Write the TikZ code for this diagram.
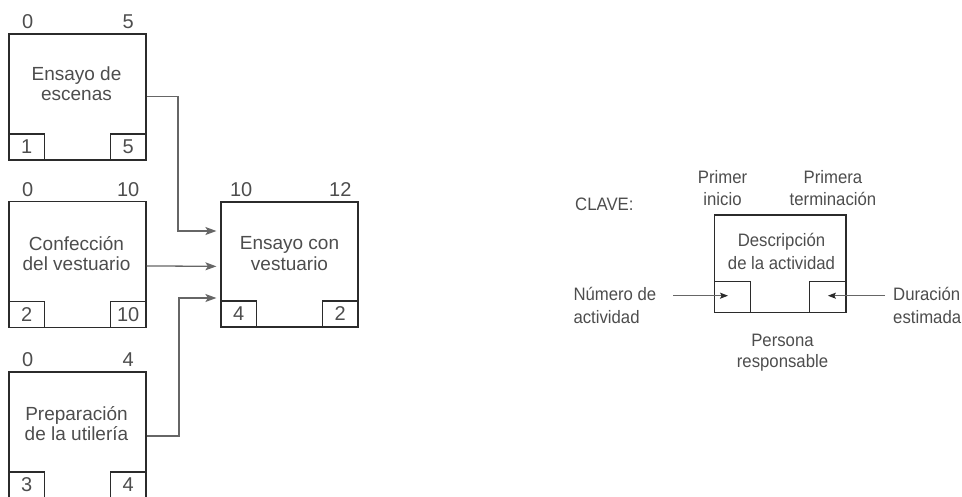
\documentclass[tikz,border=0pt]{standalone}
\usepackage{fontspec}
\setmainfont{Liberation Sans}
\newfontfamily\keyfont[FakeStretch=0.93]{Liberation Sans}
\usetikzlibrary{arrows.meta,calc}
\definecolor{boxline}{HTML}{2B2B2B}
\definecolor{txtcol}{HTML}{4D4D4D}
\definecolor{conncol}{HTML}{666666}
\begin{document}
\begin{tikzpicture}[x=1pt,y=-1pt,
  actbox/.style={draw=boxline,line width=1.2pt,minimum width=137pt,minimum height=126pt,inner sep=0pt},
  keybox/.style={draw=boxline,line width=1.2pt,minimum width=131.7pt,minimum height=97.7pt,inner sep=0pt},
  smallbox/.style={draw=boxline,line width=1.2pt,minimum width=35.5pt,minimum height=26pt,inner sep=0pt,
    text=txtcol,font=\fontsize{20}{22}\selectfont},
  keysmall/.style={draw=boxline,line width=1.2pt,minimum width=36.4pt,minimum height=31pt,inner sep=0pt},
  numlab/.style={anchor=base,inner sep=0pt,text=txtcol,font=\fontsize{20}{22}\selectfont},
  boxtxt/.style={anchor=base,inner sep=0pt,text=txtcol,font=\fontsize{19}{20}\selectfont},
  keytxt/.style={anchor=base,inner sep=0pt,text=txtcol,font=\keyfont\fontsize{18}{22}\selectfont},
  keytxtl/.style={keytxt,anchor=base west},
  conn/.style={draw=conncol,line width=1.3pt,-{Stealth[length=11pt,width=8pt,inset=2.5pt]}},
  keyarrow/.style={draw=conncol,line width=1.1pt,-{Stealth[length=8pt,width=6pt,inset=1.5pt,color=boxline]}}
]
\useasboundingbox (0,0) rectangle (962,496);

% ---- Activity 1
\node[actbox] (b1) at (77.5,97) {};
\node[smallbox,anchor=south west] (b1n) at (b1.south west) {1};
\node[smallbox,anchor=south east] (b1d) at (b1.south east) {5};
\node[numlab] (b1s) at ($(b1n.center |- b1.north)+(1,-4.5)$) {0};
\node[numlab] (b1f) at ($(b1d.center |- b1.north)+(0,-4.5)$) {5};
\node[boxtxt] (b1t1) at (76.5,80) {Ensayo de};
\node[boxtxt] (b1t2) at (76.5,100) {escenas};

% ---- Activity 2
\node[actbox] (b2) at (77.5,264.5) {};
\node[smallbox,anchor=south west] (b2n) at (b2.south west) {2};
\node[smallbox,anchor=south east] (b2d) at (b2.south east) {10};
\node[numlab] (b2s) at ($(b2n.center |- b2.north)+(1,-4.5)$) {0};
\node[numlab] (b2f) at ($(b2d.center |- b2.north)+(0,-4.5)$) {10};
\node[boxtxt] (b2t1) at (76.5,250) {Confección};
\node[boxtxt] (b2t2) at (76.5,270) {del vestuario};

% ---- Activity 3
\node[actbox] (b3) at (77.5,435) {};
\node[smallbox,anchor=south west] (b3n) at (b3.south west) {3};
\node[smallbox,anchor=south east] (b3d) at (b3.south east) {4};
\node[numlab] (b3s) at ($(b3n.center |- b3.north)+(1,-4.5)$) {0};
\node[numlab] (b3f) at ($(b3d.center |- b3.north)+(0,-4.5)$) {4};
\node[boxtxt] (b3t1) at (76.5,420.7) {Preparación};
\node[boxtxt] (b3t2) at (76.5,440.7) {de la utilería};

% ---- Activity 4
\node[actbox,minimum height=125pt] (b4) at (289.5,264.5) {};
\node[smallbox,anchor=south west] (b4n) at (b4.south west) {4};
\node[smallbox,anchor=south east] (b4d) at (b4.south east) {2};
\node[numlab] (b4s) at ($(b4n.center |- b4.north)+(2.5,-5)$) {10};
\node[numlab] (b4f) at ($(b4d.center |- b4.north)+(0,-5)$) {12};
\node[boxtxt] (b4t1) at (289.5,249.5) {Ensayo con};
\node[boxtxt] (b4t2) at (289.5,270) {vestuario};

% ---- Connectors
\coordinate (v1) at (178,231);
\coordinate (v3) at (179,298);
\draw[conn,shorten >=4pt] ($(b1.north east)+(0,63.3)$) -| (v1) -- (v1 -| b4.west);
\draw[conn,shorten >=4pt] ($(b2.north east)+(0,65)$) -- ($(b4.north west)+(0,65)$);
\draw[conn,shorten >=4pt] ($(b3.north east)+(0,64.7)$) -| (v3) -- (v3 -| b4.west);

% ---- Key
\node[keytxtl] (clave) at (575,210) {CLAVE:};
\node[keybox] (kb) at (780.2,263.9) {};
\node[keysmall,anchor=south west] (kn) at (kb.south west) {};
\node[keysmall,anchor=south east] (kd) at (kb.south east) {};
\node[keytxt] (kp1) at (722.5,183.3) {Primer};
\node[keytxt] (kp2) at (722.5,205) {inicio};
\node[keytxt] (kq1) at (833,183.3) {Primera};
\node[keytxt] (kq2) at (833,205) {terminación};
\node[keytxt] (kt1) at (781.5,246.7) {Descripción};
\node[keytxt] (kt2) at (781.5,269) {de la actividad};
\node[keytxtl] (kl1) at (573.3,300.5) {Número de};
\node[keytxtl] (kl2) at (573.3,323) {actividad};
\node[keytxtl] (kr1) at (893,300.5) {Duración};
\node[keytxtl] (kr2) at (893,323) {estimada};
\node[keytxt] (kb1) at (782.5,346.7) {Persona};
\node[keytxt] (kb2) at (782.5,367) {responsable};
\coordinate (kla) at (673,295.7);
\coordinate (kra) at (885,295.7);
\draw[keyarrow] (kla) -- ($(kn.center |- kla)+(-4.5,0)$);
\draw[keyarrow] (kra) -- (kd.center |- kra);
\end{tikzpicture}
\end{document}
